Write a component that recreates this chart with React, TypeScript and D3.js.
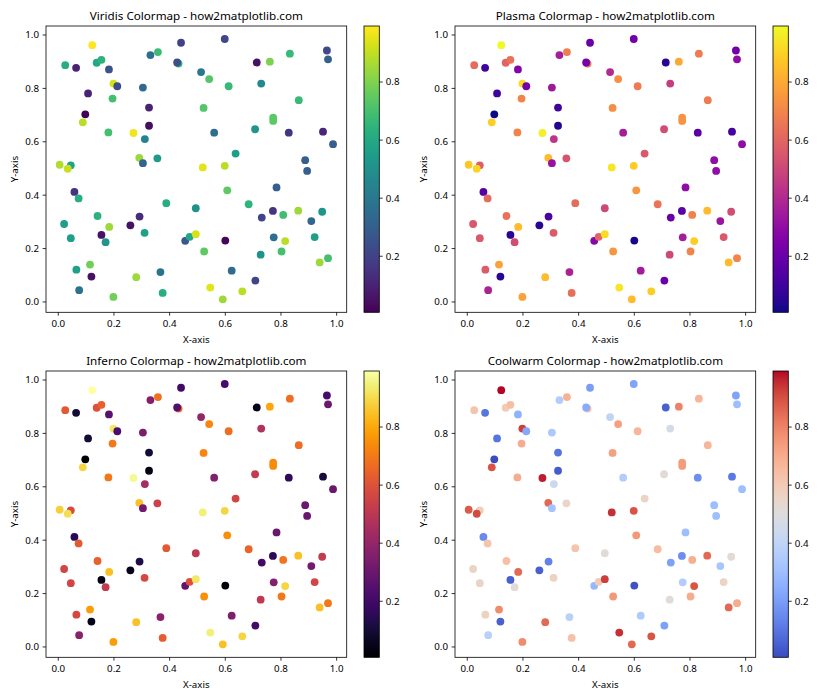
import React from "react";
import * as d3 from "d3";

const xs = [0.025,0.064,0.122,0.138,0.155,0.182,0.198,0.212,0.107,0.195,0.097,0.088,0.180,0.270,0.304,0.331,0.358,0.441,0.432,0.427,0.326,0.326,0.311,0.291,0.356,0.304,0.005,0.045,0.034,
0.598,0.513,0.542,0.612,0.713,0.760,0.832,0.965,0.969,0.729,0.522,0.864,0.772,0.772,0.560,0.707,0.828,0.951,0.987,0.637,0.887,0.894,0.519,0.598,
0.058,0.073,0.021,0.045,0.141,0.155,0.170,0.183,0.065,0.075,0.114,0.119,0.198,0.259,0.292,0.310,0.280,0.367,0.375,0.388,0.456,0.472,0.494,0.494,
0.607,0.684,0.784,0.771,0.731,0.808,0.862,0.948,0.909,0.600,0.774,0.815,0.921,0.524,0.727,0.802,0.939,0.969,0.623,0.708,0.546,0.661,0.591];
const ys = [0.887,0.877,0.962,0.896,0.907,0.871,0.818,0.808,0.781,0.762,0.703,0.673,0.635,0.633,0.803,0.925,0.936,0.971,0.893,0.897,0.728,0.660,0.610,0.540,0.538,0.520,0.514,0.512,0.499,
0.985,0.861,0.835,0.808,0.897,0.900,0.930,0.942,0.909,0.818,0.727,0.756,0.690,0.678,0.634,0.647,0.634,0.638,0.591,0.556,0.531,0.491,0.504,0.510,
0.412,0.388,0.292,0.239,0.322,0.251,0.224,0.281,0.121,0.044,0.140,0.095,0.019,0.287,0.320,0.259,0.093,0.112,0.034,0.370,0.229,0.244,0.254,0.351,
0.418,0.366,0.429,0.341,0.316,0.326,0.342,0.338,0.303,0.230,0.242,0.228,0.243,0.189,0.177,0.189,0.148,0.164,0.117,0.080,0.054,0.040,0.010];
const cs = [0.62,0.10,0.993,0.60,0.64,0.26,0.93,0.23,0.10,0.70,0.007,0.89,0.70,0.97,0.34,0.36,0.68,0.20,0.65,0.24,0.10,0.04,0.44,0.85,0.55,0.32,0.88,0.58,0.91,
0.22,0.40,0.73,0.67,0.05,0.80,0.67,0.22,0.30,0.47,0.73,0.67,0.74,0.74,0.36,0.52,0.16,0.11,0.30,0.56,0.30,0.30,0.95,0.89,
0.15,0.62,0.56,0.56,0.64,0.05,0.52,0.85,0.57,0.38,0.78,0.05,0.78,0.05,0.13,0.57,0.85,0.38,0.63,0.62,0.28,0.60,0.93,0.51,
0.75,0.65,0.30,0.16,0.21,0.69,0.85,0.52,0.33,0.02,0.36,0.89,0.56,0.75,0.51,0.70,0.85,0.70,0.35,0.21,0.95,0.89,0.85];

const axisTicks = [0, 0.2, 0.4, 0.6, 0.8, 1.0];
const cbarTicks = [0.2, 0.4, 0.6, 0.8];
const titles = ["Viridis Colormap - how2matplotlib.com", "Plasma Colormap - how2matplotlib.com", "Inferno Colormap - how2matplotlib.com", "Coolwarm Colormap - how2matplotlib.com"];

const coolwarmStops = [
  [59,76,192],[68,90,204],[77,104,215],[87,117,225],[98,130,234],[108,142,241],[119,154,247],[130,165,251],[141,176,254],
  [152,185,255],[163,194,255],[174,201,253],[184,208,249],[194,213,244],[204,217,238],[213,219,230],[221,221,221],
  [229,216,209],[236,211,197],[241,204,184],[245,196,172],[247,187,159],[247,177,147],[247,166,134],[244,154,123],
  [241,141,111],[236,127,99],[229,112,89],[222,96,77],[213,80,67],[203,62,56],[192,40,47],[180,4,38]
].map(([r,g,b]) => `rgb(${r},${g},${b})`);
const interpolateCoolwarm = d3.interpolateRgbBasis(coolwarmStops);

const cmaps = [d3.interpolateViridis, d3.interpolatePlasma, d3.interpolateInferno, interpolateCoolwarm];
const FONT = "'Noto Sans', 'DejaVu Sans', sans-serif";

function pad(ext: [number, number]): [number, number] {
  const r = ext[1] - ext[0];
  return [ext[0] - 0.05 * r, ext[1] + 0.05 * r];
}

function Panel({ ox, oy, idx }: { ox: number; oy: number; idx: number }) {
  const L = 46 + ox, R = 346.7 + ox, T = 26 + oy, B = 312.3 + oy;
  const x = d3.scaleLinear().domain(pad(d3.extent(xs) as [number, number])).range([L, R]);
  const y = d3.scaleLinear().domain(pad(d3.extent(ys) as [number, number])).range([B, T]);
  const cExt = d3.extent(cs) as [number, number];
  const cNorm = d3.scaleLinear().domain(cExt).range([0, 1]);
  const interp = cmaps[idx];
  const cbL = 364 + ox, cbR = 379.3 + ox;
  const cy = d3.scaleLinear().domain(cExt).range([B, T]);
  const gid = `grad${idx}`;
  const stops = d3.range(0, 1.0001, 1 / 32);
  return (
    <g>
      <defs>
        <linearGradient id={gid} x1="0" y1="1" x2="0" y2="0">
          {stops.map((t, i) => (
            <stop key={i} offset={t} stopColor={interp(t)} />
          ))}
        </linearGradient>
      </defs>
      <text x={(L + R) / 2} y={19.5 + oy} textAnchor="middle" fontSize={11.67} fontFamily={FONT} fill="#000">
        {titles[idx]}
      </text>
      {xs.map((xv, i) => (
        <circle key={i} cx={x(xv)} cy={y(ys[i])} r={3.9} fill={interp(cNorm(cs[i]))} />
      ))}
      <rect x={L} y={T} width={R - L} height={B - T} fill="none" stroke="#000" strokeWidth={0.8} />
      {axisTicks.map((t) => (
        <g key={"x" + t}>
          <line x1={x(t)} x2={x(t)} y1={B} y2={B + 3.4} stroke="#000" strokeWidth={0.8} />
          <text x={x(t)} y={B + 14.2} textAnchor="middle" fontSize={9.72} fontFamily={FONT}>
            {t.toFixed(1)}
          </text>
          <line x1={L - 3.4} x2={L} y1={y(t)} y2={y(t)} stroke="#000" strokeWidth={0.8} />
          <text x={L - 7} y={y(t)} dy="0.35em" textAnchor="end" fontSize={9.72} fontFamily={FONT}>
            {t.toFixed(1)}
          </text>
        </g>
      ))}
      <text x={(L + R) / 2} y={342.5 + oy} textAnchor="middle" fontSize={9.72} fontFamily={FONT}>
        X-axis
      </text>
      <text transform={`translate(${14.5 + ox},${(T + B) / 2}) rotate(-90)`} textAnchor="middle" dy="0.35em" fontSize={9.72} fontFamily={FONT}>
        Y-axis
      </text>
      <rect x={cbL} y={T} width={cbR - cbL} height={B - T} fill={`url(#${gid})`} stroke="#000" strokeWidth={0.8} />
      {cbarTicks.map((t) => (
        <g key={"c" + t}>
          <line x1={cbR} x2={cbR + 3.4} y1={cy(t)} y2={cy(t)} stroke="#000" strokeWidth={0.8} />
          <text x={cbR + 6.5} y={cy(t)} dy="0.35em" fontSize={9.72} fontFamily={FONT}>
            {t.toFixed(1)}
          </text>
        </g>
      ))}
    </g>
  );
}

export default function App() {
  return (
    <svg width={840} height={700} style={{ position: "absolute", left: 0, top: 0, background: "#fff" }}>
      <rect width={840} height={700} fill="#fff" />
      <Panel ox={0} oy={0} idx={0} />
      <Panel ox={409} oy={0} idx={1} />
      <Panel ox={0} oy={345} idx={2} />
      <Panel ox={409} oy={345} idx={3} />
    </svg>
  );
}
